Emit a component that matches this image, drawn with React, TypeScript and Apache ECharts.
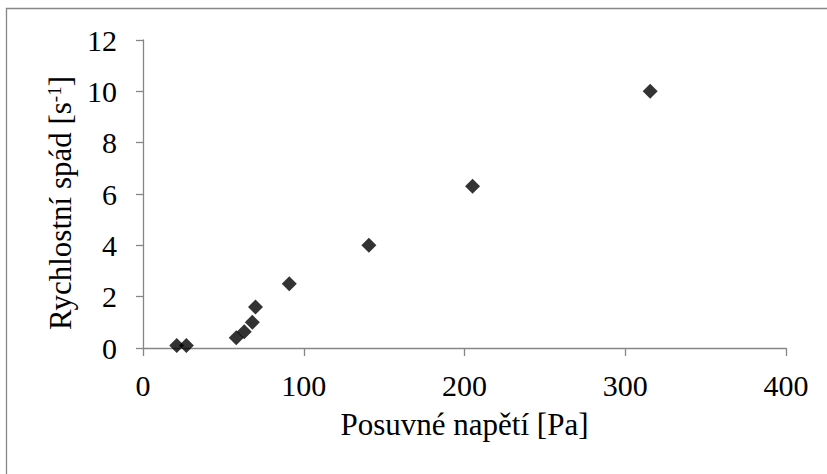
import React, { useEffect, useRef } from "react";
import * as echarts from "echarts";

const shearStress = [21, 27, 58, 63, 68, 70, 91, 140.5, 205, 315.5];
const shearRate = [0.1, 0.1, 0.4, 0.63, 1.0, 1.6, 2.5, 4.0, 6.3, 10];
const xAxisName = "Posuvné napětí [Pa]";
const yAxisName = "Rychlostní spád [s{sup|-1}]";

const FONT = "Times New Roman";
const AXIS_COLOR = "#868686";

export default function App() {
  const ref = useRef<HTMLDivElement>(null);
  useEffect(() => {
    if (!ref.current) return;
    const chart = echarts.init(ref.current, undefined, { renderer: "svg" });
    const data = shearStress.map((x, i) => [x, shearRate[i]]);
    const labelStyle = { fontFamily: FONT, fontSize: 30, color: "#000000", fontWeight: "normal" as const };
    chart.setOption({
      animation: false,
      backgroundColor: "#ffffff",
      textStyle: { fontFamily: FONT },
      graphic: [
        {
          type: "rect",
          shape: { x: 6.5, y: 8.5, width: 840, height: 490 },
          style: { fill: "none", stroke: AXIS_COLOR, lineWidth: 1.3 },
          silent: true,
        },
      ],
      grid: { left: 143, right: 41, top: 40, bottom: 126 },
      xAxis: {
        type: "value",
        min: 0,
        max: 400,
        interval: 100,
        name: xAxisName,
        nameLocation: "middle",
        nameGap: 61,
        nameTextStyle: { fontFamily: FONT, fontSize: 31, color: "#000" },
        axisLine: { show: true, onZero: false, lineStyle: { color: AXIS_COLOR, width: 1.3 } },
        axisTick: { show: true, inside: false, length: 8, lineStyle: { color: AXIS_COLOR, width: 1.3 } },
        axisLabel: { ...labelStyle, margin: 22 },
        splitLine: { show: false },
      },
      yAxis: {
        type: "value",
        min: 0,
        max: 12,
        interval: 2,
        name: yAxisName,
        nameLocation: "middle",
        nameGap: 62,
        nameRotate: 90,
        nameTextStyle: {
          fontFamily: FONT,
          fontSize: 31,
          color: "#000",
          padding: [0, 18, 0, 0],
          rich: {
            sup: { fontFamily: FONT, fontSize: 19, color: "#000", verticalAlign: "top", padding: [0, 0, 12, 0] },
          },
        },
        axisLine: { show: true, lineStyle: { color: AXIS_COLOR, width: 1.3 } },
        axisTick: { show: true, inside: false, length: 7, lineStyle: { color: AXIS_COLOR, width: 1.3 } },
        axisLabel: { ...labelStyle, margin: 26 },
        splitLine: { show: false },
      },
      series: [
        {
          type: "scatter",
          data,
          symbol: "diamond",
          symbolSize: 15,
          itemStyle: { color: "#000000" },
        },
      ],
    });
    return () => chart.dispose();
  }, []);
  return (
    <div
      ref={ref}
      style={{ position: "fixed", left: 0, top: 0, width: 827, height: 474, background: "#fff" }}
    />
  );
}
